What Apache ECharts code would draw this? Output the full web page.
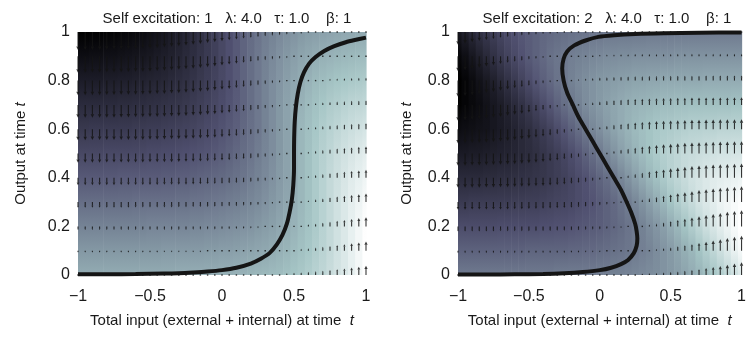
<!DOCTYPE html>
<html>
<head>
<meta charset="utf-8">
<script src="https://cdn.jsdelivr.net/npm/echarts@6/dist/echarts.min.js"></script>
<style>
html,body{margin:0;padding:0;background:#fff;}
#chart{width:749px;height:337px;}
</style>
</head>
<body>
<div id="chart"></div>
<script>
// grid where the arrows sit
var xGrid = [-1,-0.95,-0.9,-0.85,-0.8,-0.75,-0.7,-0.65,-0.6,-0.55,-0.5,-0.45,-0.4,-0.35,-0.3,-0.25,-0.2,-0.15,-0.1,-0.05,0,0.05,0.1,0.15,0.2,0.25,0.3,0.35,0.4,0.45,0.5,0.55,0.6,0.65,0.7,0.75,0.8,0.85,0.9,0.95,1];
var yGrid = [0,0.1,0.2,0.3,0.4,0.5,0.6,0.7,0.8,0.9,1];
var xTicks = [-1,-0.5,0,0.5,1];
var yTicks = [0,0.2,0.4,0.6,0.8,1];

// rate of change of output (arrow length / shading), one row per yGrid value
var rateLeft = [
 [0,0,0,0,0,0,0,0,0,0, 0,0,0,0,0.01,0.01,0.01,0.01,0.01,0.01, 0.02,0.02,0.03,0.03,0.04,0.05,0.06,0.07,0.08,0.10, 0.12,0.14,0.17,0.20,0.23,0.27,0.31,0.35,0.40,0.45, 0.50],
 [-0.10,-0.10,-0.10,-0.10,-0.10,-0.10,-0.10,-0.10,-0.10,-0.10, -0.10,-0.10,-0.09,-0.09,-0.09,-0.09,-0.09,-0.09,-0.08,-0.08, -0.07,-0.07,-0.06,-0.05,-0.04,-0.03,-0.02,0.00,0.02,0.04, 0.07,0.10,0.13,0.17,0.21,0.25,0.30,0.35,0.40,0.45, 0.50],
 [-0.20,-0.20,-0.20,-0.20,-0.20,-0.20,-0.20,-0.20,-0.20,-0.20, -0.19,-0.19,-0.19,-0.19,-0.19,-0.19,-0.18,-0.18,-0.17,-0.17, -0.16,-0.15,-0.14,-0.13,-0.12,-0.10,-0.08,-0.06,-0.03,0.00, 0.03,0.07,0.11,0.15,0.20,0.25,0.30,0.35,0.40,0.45, 0.49],
 [-0.30,-0.30,-0.30,-0.30,-0.30,-0.30,-0.30,-0.30,-0.29,-0.29, -0.29,-0.29,-0.29,-0.29,-0.28,-0.28,-0.27,-0.27,-0.26,-0.25, -0.24,-0.23,-0.22,-0.20,-0.18,-0.16,-0.13,-0.10,-0.07,-0.03, 0.01,0.05,0.10,0.15,0.20,0.25,0.30,0.35,0.39,0.43, 0.47],
 [-0.40,-0.40,-0.40,-0.40,-0.40,-0.40,-0.39,-0.39,-0.39,-0.39, -0.39,-0.39,-0.38,-0.38,-0.37,-0.37,-0.36,-0.35,-0.34,-0.33, -0.32,-0.30,-0.28,-0.26,-0.23,-0.20,-0.17,-0.13,-0.09,-0.05, 0.00,0.05,0.10,0.15,0.20,0.25,0.29,0.33,0.37,0.40, 0.43],
 [-0.50,-0.50,-0.50,-0.50,-0.49,-0.49,-0.49,-0.49,-0.49,-0.49, -0.48,-0.48,-0.47,-0.47,-0.46,-0.45,-0.44,-0.43,-0.42,-0.40, -0.38,-0.36,-0.33,-0.30,-0.27,-0.23,-0.19,-0.15,-0.10,-0.05, 0.00,0.05,0.10,0.15,0.19,0.23,0.27,0.30,0.33,0.36, 0.38],
 [-0.60,-0.60,-0.59,-0.59,-0.59,-0.59,-0.59,-0.59,-0.58,-0.58, -0.57,-0.57,-0.56,-0.55,-0.54,-0.53,-0.52,-0.50,-0.48,-0.46, -0.43,-0.40,-0.37,-0.33,-0.29,-0.25,-0.20,-0.15,-0.10,-0.05, 0.00,0.05,0.09,0.13,0.17,0.20,0.23,0.26,0.28,0.30, 0.32],
 [-0.69,-0.69,-0.69,-0.69,-0.69,-0.69,-0.68,-0.68,-0.67,-0.67, -0.66,-0.65,-0.64,-0.63,-0.62,-0.60,-0.58,-0.56,-0.53,-0.50, -0.47,-0.43,-0.39,-0.35,-0.30,-0.25,-0.20,-0.15,-0.10,-0.05, -0.01,0.03,0.07,0.10,0.13,0.16,0.18,0.20,0.22,0.23, 0.24],
 [-0.79,-0.79,-0.79,-0.79,-0.78,-0.78,-0.77,-0.77,-0.76,-0.75, -0.74,-0.73,-0.72,-0.70,-0.68,-0.66,-0.63,-0.60,-0.57,-0.53, -0.49,-0.45,-0.40,-0.35,-0.30,-0.25,-0.20,-0.15,-0.11,-0.07, -0.03,0.00,0.03,0.06,0.08,0.10,0.12,0.13,0.14,0.15, 0.16],
 [-0.89,-0.89,-0.88,-0.88,-0.87,-0.87,-0.86,-0.85,-0.84,-0.83, -0.82,-0.80,-0.78,-0.76,-0.73,-0.70,-0.67,-0.63,-0.59,-0.55, -0.50,-0.45,-0.40,-0.35,-0.30,-0.25,-0.21,-0.17,-0.13,-0.10, -0.07,-0.04,-0.02,0.00,0.02,0.03,0.04,0.05,0.06,0.07, 0.07],
 [-0.98,-0.98,-0.97,-0.97,-0.96,-0.95,-0.94,-0.93,-0.92,-0.90, -0.88,-0.86,-0.83,-0.80,-0.77,-0.73,-0.69,-0.65,-0.60,-0.55, -0.50,-0.45,-0.40,-0.35,-0.31,-0.27,-0.23,-0.20,-0.17,-0.14, -0.12,-0.10,-0.08,-0.07,-0.06,-0.05,-0.04,-0.03,-0.03,-0.02, -0.02]
];
var rateRight = [
 [0,0,0,0,0,0,0,0,0,0, 0,0,0,0,0.01,0.01,0.01,0.01,0.01,0.01, 0.02,0.02,0.03,0.03,0.04,0.05,0.06,0.07,0.08,0.10, 0.12,0.14,0.17,0.20,0.23,0.27,0.31,0.35,0.40,0.45, 0.50],
 [-0.10,-0.10,-0.10,-0.10,-0.10,-0.10,-0.10,-0.10,-0.10,-0.10, -0.09,-0.09,-0.09,-0.09,-0.09,-0.09,-0.08,-0.08,-0.07,-0.07, -0.06,-0.05,-0.04,-0.03,-0.02,0.00,0.02,0.04,0.07,0.10, 0.13,0.17,0.21,0.25,0.30,0.35,0.40,0.45,0.50,0.55, 0.59],
 [-0.20,-0.20,-0.20,-0.20,-0.20,-0.20,-0.19,-0.19,-0.19,-0.19, -0.19,-0.19,-0.18,-0.18,-0.17,-0.17,-0.16,-0.15,-0.14,-0.13, -0.12,-0.10,-0.08,-0.06,-0.03,0.00,0.03,0.07,0.11,0.15, 0.20,0.25,0.30,0.35,0.40,0.45,0.49,0.53,0.57,0.60, 0.63],
 [-0.30,-0.30,-0.29,-0.29,-0.29,-0.29,-0.29,-0.29,-0.28,-0.28, -0.27,-0.27,-0.26,-0.25,-0.24,-0.23,-0.22,-0.20,-0.18,-0.16, -0.13,-0.10,-0.07,-0.03,0.01,0.05,0.10,0.15,0.20,0.25, 0.30,0.35,0.39,0.43,0.47,0.50,0.53,0.56,0.58,0.60, 0.62],
 [-0.39,-0.39,-0.39,-0.39,-0.38,-0.38,-0.37,-0.37,-0.36,-0.35, -0.34,-0.33,-0.32,-0.30,-0.28,-0.26,-0.23,-0.20,-0.17,-0.13, -0.09,-0.05,0.00,0.05,0.10,0.15,0.20,0.25,0.29,0.33, 0.37,0.40,0.43,0.46,0.48,0.50,0.52,0.53,0.54,0.55, 0.56],
 [-0.48,-0.48,-0.47,-0.47,-0.46,-0.45,-0.44,-0.43,-0.42,-0.40, -0.38,-0.36,-0.33,-0.30,-0.27,-0.23,-0.19,-0.15,-0.10,-0.05, 0.00,0.05,0.10,0.15,0.19,0.23,0.27,0.30,0.33,0.36, 0.38,0.40,0.42,0.43,0.44,0.45,0.46,0.47,0.47,0.48, 0.48],
 [-0.56,-0.55,-0.54,-0.53,-0.52,-0.50,-0.48,-0.46,-0.43,-0.40, -0.37,-0.33,-0.29,-0.25,-0.20,-0.15,-0.10,-0.05,0.00,0.05, 0.09,0.13,0.17,0.20,0.23,0.26,0.28,0.30,0.32,0.33, 0.34,0.35,0.36,0.37,0.37,0.38,0.38,0.39,0.39,0.39, 0.39],
 [-0.62,-0.60,-0.58,-0.56,-0.53,-0.50,-0.47,-0.43,-0.39,-0.35, -0.30,-0.25,-0.20,-0.15,-0.10,-0.05,-0.01,0.03,0.07,0.10, 0.13,0.16,0.18,0.20,0.22,0.23,0.24,0.25,0.26,0.27, 0.27,0.28,0.28,0.29,0.29,0.29,0.29,0.29,0.29,0.30, 0.30],
 [-0.63,-0.60,-0.57,-0.53,-0.49,-0.45,-0.40,-0.35,-0.30,-0.25, -0.20,-0.15,-0.11,-0.07,-0.03,0.00,0.03,0.06,0.08,0.10, 0.12,0.13,0.14,0.15,0.16,0.17,0.17,0.18,0.18,0.19, 0.19,0.19,0.19,0.19,0.19,0.20,0.20,0.20,0.20,0.20, 0.20],
 [-0.59,-0.55,-0.50,-0.45,-0.40,-0.35,-0.30,-0.25,-0.21,-0.17, -0.13,-0.10,-0.07,-0.04,-0.02,0.00,0.02,0.03,0.04,0.05, 0.06,0.07,0.07,0.08,0.08,0.09,0.09,0.09,0.09,0.09, 0.09,0.10,0.10,0.10,0.10,0.10,0.10,0.10,0.10,0.10, 0.10],
 [-0.50,-0.45,-0.40,-0.35,-0.31,-0.27,-0.23,-0.20,-0.17,-0.14, -0.12,-0.10,-0.08,-0.07,-0.06,-0.05,-0.04,-0.03,-0.03,-0.02, -0.02,-0.01,-0.01,-0.01,-0.01,-0.01,-0.01,0,0,0, 0,0,0,0,0,0,0,0,0,0, 0]
];

// nullcline (thick black curve), [input, output]
var curveLeft = [[-1,0.003],[-0.8,0.003],[-0.6,0.004],[-0.4,0.006],[-0.3,0.007],[-0.2,0.01],[-0.1,0.014],[0,0.02],[0.1,0.03],[0.2,0.047],[0.27,0.067],[0.33,0.09],[0.38,0.125],[0.42,0.165],[0.45,0.21],[0.47,0.26],[0.485,0.31],[0.495,0.37],[0.5,0.44],[0.5,0.5],[0.501,0.56],[0.505,0.63],[0.513,0.69],[0.526,0.745],[0.545,0.795],[0.57,0.835],[0.605,0.87],[0.65,0.897],[0.71,0.922],[0.78,0.942],[0.86,0.958],[0.93,0.968],[1,0.977]];
var curveRight = [[-1,0.002],[-0.8,0.002],[-0.6,0.003],[-0.4,0.004],[-0.25,0.007],[-0.12,0.012],[0,0.02],[0.08,0.03],[0.15,0.045],[0.2,0.062],[0.24,0.09],[0.26,0.12],[0.265,0.15],[0.26,0.18],[0.25,0.21],[0.22,0.26],[0.19,0.3],[0.15,0.35],[0.1,0.4],[0.05,0.45],[0,0.5],[-0.05,0.55],[-0.1,0.6],[-0.15,0.65],[-0.19,0.7],[-0.23,0.75],[-0.255,0.8],[-0.265,0.85],[-0.255,0.89],[-0.23,0.92],[-0.18,0.945],[-0.1,0.965],[-0.01,0.98],[0.1,0.987],[0.25,0.992],[0.45,0.995],[0.7,0.997],[1,0.998]];

var titles = ['Self excitation: 1   \u03bb: 4.0   \u03c4: 1.0    \u03b2: 1',
              'Self excitation: 2   \u03bb: 4.0   \u03c4: 1.0    \u03b2: 1'];

var FONT = '"Liberation Sans", Arial, Helvetica, sans-serif';

// bone-like colour ramp
var boneStops = [[0,[0,0,0]],[0.365,[81,81,113]],[0.746,[166,198,198]],[1,[255,255,255]]];
function bone(t){
	t = Math.max(0, Math.min(1, t));
	for(var k=1;k<boneStops.length;k++){
		if(t <= boneStops[k][0]){
			var a = boneStops[k-1], b = boneStops[k];
			var f = (t - a[0])/(b[0] - a[0]);
			var c = [0,1,2].map(function(n){ return Math.round(a[1][n] + f*(b[1][n]-a[1][n])); });
			return 'rgb('+c.join(',')+')';
		}
	}
	return '#fff';
}

function heatSeries(field, idx){
	var all = [].concat.apply([], field);
	var lo = Math.min.apply(null, all), hi = Math.max.apply(null, all);
	return {
		type:'custom', xAxisIndex:idx, yAxisIndex:idx, silent:true, z:1,
		data: xGrid.map(function(x,i){ return [x, 0.5, i]; }),
		renderItem: function(params, api){
			var i = api.value(2), x = xGrid[i];
			var x0 = Math.max(-1, x-0.025), x1 = Math.min(1, x+0.025);
			var p0 = api.coord([x0, 1]), p1 = api.coord([x1, 0]);
			var stops = [];
			for(var j=yGrid.length-1;j>=0;j--){
				stops.push({offset:(1-yGrid[j]), color:bone((field[j][i]-lo)/(hi-lo))});
			}
			return {
				type:'rect',
				shape:{x:p0[0], y:p0[1], width:p1[0]-p0[0]+0.6, height:p1[1]-p0[1]},
				style:{fill:new echarts.graphic.LinearGradient(0,0,0,1,stops)}
			};
		}
	};
}

function arrowSeries(field, idx, scale){
	var data = [];
	for(var j=0;j<yGrid.length;j++){
		for(var i=0;i<xGrid.length;i++){
			data.push([xGrid[i], yGrid[j], field[j][i]]);
		}
	}
	return {
		type:'custom', xAxisIndex:idx, yAxisIndex:idx, silent:true, z:2,
		data: data,
		renderItem: function(params, api){
			var x = api.value(0), y = api.value(1), v = api.value(2);
			var p0 = api.coord([x, y]);
			var p1 = api.coord([x, y + v*scale]);
			var len = p0[1] - p1[1];
			var col = 'rgba(20,20,20,0.85)';
			if(Math.abs(len) < 1.5){
				return {type:'rect', shape:{x:p0[0]-0.7, y:p0[1]-0.7, width:1.4, height:1.4}, style:{fill:col}};
			}
			var dir = len > 0 ? 1 : -1;
			var h = Math.min(3.5, Math.abs(len)*0.35), hw = Math.min(1.7, h*0.5);
			var tipY = p1[1];
			var baseY = tipY + dir*h;
			return {
				type:'group',
				children:[
					{type:'line', shape:{x1:p0[0], y1:p0[1], x2:p0[0], y2:baseY}, style:{stroke:col, lineWidth:1.1}},
					{type:'polygon', shape:{points:[[p0[0], tipY],[p0[0]-hw, baseY],[p0[0]+hw, baseY]]}, style:{fill:col}}
				]
			};
		}
	};
}

function curveSeries(points, idx){
	return {
		type:'line', xAxisIndex:idx, yAxisIndex:idx, z:3,
		data: points, showSymbol:false, smooth:0.25, clip:false, silent:true,
		lineStyle:{color:'#151515', width:4}
	};
}

var labelStyle = {fontSize:16, color:'#1a1a1a', fontFamily:FONT};
var nameStyle = {fontSize:15, color:'#1a1a1a', fontFamily:FONT,
	rich:{i:{fontStyle:'italic', fontSize:15, color:'#1a1a1a', fontFamily:FONT}}};

function xAxisFor(idx){
	return {
		type:'value', gridIndex:idx, min:xTicks[0], max:xTicks[xTicks.length-1], interval:0.5,
		axisLine:{show:false}, axisTick:{show:false}, splitLine:{show:false},
		axisLabel:Object.assign({margin:14, formatter:function(v){ return String(v).replace('-', '\u2212'); }}, labelStyle),
		name:'Total input (external + internal) at time  {i|t}', nameLocation:'middle', nameGap:38,
		nameTextStyle:nameStyle
	};
}
function yAxisFor(idx, gap){
	return {
		type:'value', gridIndex:idx, min:yTicks[0], max:yTicks[yTicks.length-1], interval:0.2,
		axisLine:{show:false}, axisTick:{show:false}, splitLine:{show:false},
		axisLabel:Object.assign({margin:8}, labelStyle),
		name:'Output at time {i|t}', nameLocation:'middle', nameGap:gap,
		nameTextStyle:nameStyle
	};
}

var chart = echarts.init(document.getElementById('chart'));
var option = {
	animation:false,
	backgroundColor:'#ffffff',
	title:[
		{text:titles[0], left:222, top:6, textAlign:'center', textStyle:{fontSize:15, fontWeight:'normal', color:'#1a1a1a', fontFamily:FONT}},
		{text:titles[1], left:602, top:6, textAlign:'center', textStyle:{fontSize:15, fontWeight:'normal', color:'#1a1a1a', fontFamily:FONT}}
	],
	grid:[
		{left:78, top:32, width:288, height:243},
		{left:458, top:32, width:289, height:243}
	],
	xAxis:[xAxisFor(0), xAxisFor(1)],
	yAxis:[yAxisFor(0, 50), yAxisFor(1, 44)],
	series:[
		heatSeries(rateLeft, 0),
		arrowSeries(rateLeft, 0, 0.076),
		curveSeries(curveLeft, 0),
		heatSeries(rateRight, 1),
		arrowSeries(rateRight, 1, 0.105),
		curveSeries(curveRight, 1)
	]
};
chart.setOption(option);
</script>
</body>
</html>
